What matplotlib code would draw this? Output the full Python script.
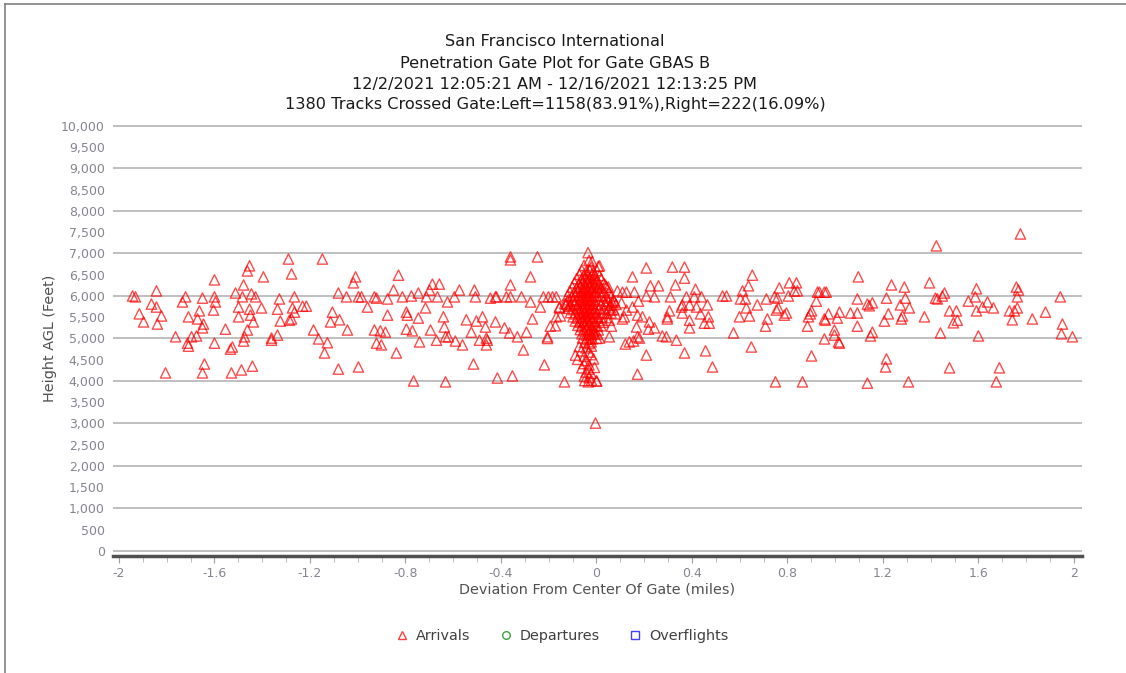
import matplotlib
matplotlib.use('Agg')
import matplotlib.pyplot as plt
from matplotlib.lines import Line2D
from matplotlib.ticker import MultipleLocator, FuncFormatter

# titulo / etiquetas
title_lines = ['San Francisco International',
               'Penetration Gate Plot for Gate GBAS B',
               '12/2/2021 12:05:21 AM - 12/16/2021 12:13:25 PM',
               '1380 Tracks Crossed Gate:Left=1158(83.91%),Right=222(16.09%)']
x_label = 'Deviation From Center Of Gate (miles)'
y_label = 'Height AGL (Feet)'
legend_names = ['Arrivals', 'Departures', 'Overflights']

# arrivals west of the gate centre (miles, feet)
west_x = [-1.943, -1.931, -1.843, -1.915, -1.897, -1.864, -1.843, -1.822, -1.839, -1.763,
          -1.805, -1.734, -1.721, -1.709, -1.696, -1.713, -1.709, -1.675, -1.663, -1.671,
          -1.646, -1.650, -1.650, -1.642, -1.650, -1.600, -1.600, -1.596, -1.604, -1.600,
          -1.554, -1.533, -1.525, -1.529, -1.487, -1.441, -1.512, -1.478, -1.483, -1.499,
          -1.499, -1.453, -1.462, -1.453, -1.449, -1.437, -1.462, -1.474, -1.478, -1.445,
          -1.428, -1.395, -1.403, -1.361, -1.361, -1.336, -1.336, -1.328, -1.324, -1.290,
          -1.277, -1.273, -1.265, -1.265, -1.286, -1.277, -1.231, -1.215, -1.185, -1.164,
          -1.139, -1.127, -1.148, -1.081, -1.106, -1.114, -1.076, -1.043, -1.081, -1.047,
          -1.009, -1.018, -0.997, -0.997,
          -0.984, -0.959, -0.930, -0.921, -0.930, -0.921, -0.901, -0.905, -0.884, -0.875,
          -0.875, -0.850, -0.829, -0.838, -0.813, -0.796, -0.792, -0.796, -0.775, -0.771,
          -0.766, -0.746, -0.746, -0.741, -0.712, -0.716, -0.699, -0.687, -0.695, -0.666,
          -0.658, -0.670, -0.641, -0.637, -0.632, -0.624, -0.620, -0.632, -0.595, -0.591,
          -0.574, -0.561, -0.545, -0.524, -0.515, -0.511, -0.507, -0.503, -0.490, -0.477,
          -0.465, -0.461, -0.457, -0.461, -0.444, -0.423, -0.419, -0.423, -0.415, -0.385,
          -0.360, -0.360, -0.360, -0.377, -0.360, -0.364, -0.352, -0.331, -0.314, -0.306,
          -0.293, -0.276, -0.276, -0.268, -0.247, -0.235, -0.222, -0.218, -0.201, -0.184,
          -0.168, -0.193, -0.205, -0.155, -0.168, -0.151, -0.134, -0.121, -0.155, -0.172,
          -0.205]
west_y = [6000, 5980, 6120, 5580, 5390, 5810, 5740, 5530, 5340, 5040,
          4190, 5860, 5980, 5510, 5040, 4890, 4820, 5060, 5650, 5460,
          5340, 5250, 5950, 4400, 4190, 6380, 5980, 5860, 5670, 4890,
          5220, 4750, 4800, 4190, 4260, 4350, 6070, 6260, 5980, 5740,
          5510, 6710, 6590, 5690, 5550, 5390, 5200, 5040, 4940, 6050,
          5980, 6450, 5720, 5010, 4960, 5080, 5690, 5930, 5410, 6870,
          6520, 5720, 5980, 5620, 5430, 5460, 5760, 5760, 5200, 4990,
          4660, 4900, 6870, 4280, 5620, 5390, 5440, 5200, 6070, 5980,
          6450, 6310, 5980, 4330,
          5980, 5740, 5980, 5950, 5200, 4890, 4850, 5180, 5150, 5930,
          5550, 6140, 6490, 4660, 5980, 5620, 5550, 5220, 6000, 5180,
          4000, 6070, 5480, 4920, 5980, 5720, 6140, 6280, 5200, 5980,
          6280, 4960, 5510, 5270, 3980, 5860, 5040, 5040, 5980, 4940,
          6140, 4850, 5440, 5150, 4400, 6140, 5980, 5410, 4960, 5510,
          5270, 5010, 4960, 4850, 5950, 5980, 5980, 5390, 4070, 5250,
          6920, 6850, 6260, 5980, 5980, 5130, 4120, 5040, 5980, 4730,
          5150, 6450, 5860, 5460, 6920, 5740, 5980, 4380, 5980, 5980,
          5980, 5290, 5040, 5740, 5510, 5530, 3980, 5860, 5720, 5300,
          5000]

# dense core of arrivals right at the gate centre
core_x = [-0.035, -0.031, -0.018, -0.052, -0.022, 0.008, -0.061, -0.043, -0.029, -0.012,
          0.002, -0.071, -0.054, -0.041, -0.033, -0.019, -0.008, 0.012, -0.083, -0.063,
          -0.048, -0.038, -0.027, -0.016, -0.005, 0.003, 0.021, -0.092, -0.074, -0.058,
          -0.049, -0.037, -0.026, -0.021, -0.009, 0.001, 0.013, 0.031, -0.101, -0.082,
          -0.068, -0.057, -0.046, -0.039, -0.028, -0.017, -0.007, 0.004, 0.019, 0.042,
          -0.112, -0.094, -0.079, -0.062, -0.051, -0.043, -0.032, -0.023, -0.011, -0.002,
          0.011, 0.028, 0.052, -0.121, -0.103, -0.089, -0.072, -0.061, -0.047, -0.038,
          -0.029, -0.018, -0.008, 0.003, 0.024, 0.041, 0.063, -0.118, -0.098, -0.083,
          -0.069, -0.058, -0.049, -0.041, -0.031, -0.022, -0.012, 0.009, 0.029, 0.048,
          0.071, -0.128, -0.108, -0.091, -0.078, -0.063, -0.052, -0.044, -0.033, -0.024,
          -0.013, -0.003, 0.018, 0.037, 0.058, 0.082, -0.119, -0.097, -0.081, -0.071,
          -0.059, -0.048, -0.039, -0.027, -0.018, -0.006, 0.012, 0.033, 0.054, 0.072,
          -0.109, -0.088, -0.072, -0.062, -0.053, -0.042, -0.032, -0.021, -0.011, 0.002,
          0.022, 0.043, 0.061, -0.098, -0.079, -0.068, -0.057, -0.046, -0.037, -0.028,
          -0.016, -0.006, 0.006, 0.023, 0.041, -0.089, -0.071, -0.061, -0.052, -0.041,
          -0.031, -0.019, -0.009, 0.011, 0.028, -0.078, -0.062, -0.049, -0.038, -0.029,
          -0.017, -0.006, 0.004, 0.019, -0.068, -0.052, -0.041, -0.031, -0.022, -0.011,
          0.008, -0.061, -0.043, -0.032, -0.021, -0.009, 0.002, -0.058, -0.041, -0.029,
          -0.018, 0.001, -0.049, -0.031, -0.022, -0.072, -0.043, -0.021, -0.063, -0.032,
          -0.088, -0.051, -0.023, -0.079, -0.042, -0.012, -0.052, -0.031, -0.061, -0.033,
          -0.008, -0.043, -0.022, -0.051, -0.031, -0.049, -0.034, -0.021, 0.001, -0.133,
          -0.114, 0.047, 0.066]
core_y = [7020, 6840, 6810, 6720, 6680, 6700, 6610, 6580, 6620, 6560,
          6600, 6510, 6480, 6530, 6470, 6520, 6490, 6480, 6410, 6380,
          6420, 6370, 6430, 6390, 6410, 6360, 6400, 6310, 6280, 6330,
          6290, 6320, 6270, 6310, 6290, 6330, 6270, 6300, 6210, 6180,
          6230, 6190, 6220, 6170, 6210, 6180, 6230, 6200, 6190, 6210,
          6110, 6080, 6120, 6090, 6130, 6070, 6100, 6120, 6080, 6110,
          6090, 6120, 6080, 6010, 5980, 6020, 5990, 6030, 5970, 6010,
          6000, 5980, 6020, 5990, 6010, 5980, 6000, 5910, 5880, 5920,
          5890, 5930, 5870, 5910, 5890, 5920, 5880, 5910, 5890, 5870,
          5900, 5810, 5780, 5820, 5790, 5830, 5770, 5810, 5790, 5820,
          5780, 5810, 5790, 5820, 5780, 5800, 5710, 5680, 5720, 5690,
          5730, 5670, 5710, 5690, 5720, 5680, 5710, 5690, 5720, 5680,
          5610, 5580, 5620, 5590, 5630, 5570, 5610, 5590, 5620, 5580,
          5610, 5590, 5600, 5510, 5480, 5520, 5490, 5530, 5470, 5510,
          5490, 5520, 5480, 5510, 5490, 5410, 5380, 5420, 5390, 5430,
          5370, 5410, 5390, 5420, 5380, 5310, 5280, 5320, 5290, 5330,
          5270, 5310, 5290, 5300, 5210, 5180, 5220, 5190, 5230, 5170,
          5200, 5110, 5080, 5120, 5090, 5130, 5100, 5010, 4980, 5020,
          4990, 5000, 4910, 4880, 4920, 4810, 4780, 4820, 4710, 4680,
          4610, 4580, 4620, 4510, 4480, 4520, 4410, 4380, 4310, 4280,
          4320, 4210, 4180, 4110, 4080, 4010, 3980, 4020, 4000, 5820,
          5760, 5950, 5850]

# arrivals east of the gate centre
east_x = [0.013, 0.209, 0.318, 0.369, 0.151, 0.369, 0.331, 0.226, 0.260, 0.038,
          0.050, 0.415, 0.653, 0.637, 0.612, 0.808, 0.838, 0.766, 0.842, 0.829,
          0.926, 0.963, 0.088, 0.109, 0.126, 0.159, 0.209, 0.243, 0.176, 0.310,
          0.377, 0.410, 0.440, 0.528, 0.545, 0.603, 0.624, 0.674, 0.712, 0.746,
          0.758, 0.804, 0.921, 0.075, 0.105, 0.151, 0.063, 0.126, 0.172, 0.117,
          0.109, 0.193, 0.080, 0.306, 0.297, 0.297, 0.360, 0.356, 0.390, 0.419,
          0.465, 0.360, 0.436, 0.469, 0.473, 0.390, 0.390, 0.452, 0.628, 0.599,
          0.641, 0.716, 0.708, 0.762, 0.754, 0.796, 0.787, 0.901, 0.896, 0.888,
          0.959, 0.884, 0.054, 0.063, 0.168, 0.222, 0.243, 0.218, 0.172, 0.180,
          0.276, 0.293, 0.335, 0.574, 0.054, 0.013, 0.121, 0.138, 0.155, 0.209,
          0.369, 0.457, 0.649, 0.955, 0.901, 0.486, 0.172, 0.000, 0.750, 0.863,
          -0.004,
          1.424, 1.776, 1.097, 1.236, 1.290, 1.395, 0.955, 0.934, 1.093, 1.215,
          1.294, 1.420, 1.428, 1.449, 1.458, 1.592, 1.587, 1.558, 1.638, 1.759,
          1.768, 1.763, 1.943, 1.135, 1.143, 1.156, 1.273, 1.311, 1.617, 1.663,
          0.972, 1.018, 1.009, 1.064, 1.093, 0.955, 1.223, 1.282, 1.277, 1.206,
          1.374, 1.479, 1.508, 1.512, 1.495, 1.592, 1.730, 1.751, 1.763, 1.742,
          1.826, 1.881, 1.952, 1.093, 0.997, 0.997, 1.156, 1.148, 1.441, 1.600,
          1.948, 1.994, 1.014, 1.018, 1.215, 1.211, 1.479, 1.688, 1.135, 1.307,
          1.675]
east_y = [6710, 6660, 6680, 6680, 6450, 6420, 6260, 6240, 6240, 6260,
          6210, 6160, 6490, 6240, 6120, 6310, 6310, 6190, 6120, 6120,
          6090, 6090, 6120, 6090, 6090, 6090, 6000, 5980, 5880, 5980,
          5980, 5980, 5980, 6000, 6000, 5930, 5930, 5790, 5930, 5980,
          5950, 6000, 5880, 5880, 5840, 5740, 5670, 5670, 5550, 5510,
          5460, 5510, 5580, 5650, 5510, 5460, 5790, 5740, 5790, 5740,
          5790, 5600, 5580, 5510, 5360, 5430, 5250, 5360, 5720, 5510,
          5530, 5460, 5290, 5720, 5670, 5600, 5550, 5650, 5580, 5510,
          5430, 5290, 5430, 5290, 5270, 5390, 5250, 5220, 5040, 5010,
          5060, 5040, 4960, 5130, 5040, 5010, 4870, 4920, 4940, 4610,
          4660, 4710, 4800, 4990, 4590, 4330, 4160, 4000, 3980, 3980,
          3010,
          7180, 7460, 6450, 6260, 6210, 6310, 6090, 6090, 5930, 5950,
          5950, 5950, 5930, 6000, 6070, 6170, 5980, 5880, 5860, 6210,
          6140, 5980, 5980, 5810, 5770, 5840, 5790, 5720, 5740, 5720,
          5580, 5620, 5480, 5600, 5600, 5460, 5580, 5530, 5460, 5410,
          5510, 5650, 5650, 5430, 5370, 5650, 5650, 5650, 5720, 5440,
          5460, 5620, 5340, 5290, 5200, 5080, 5150, 5060, 5130, 5060,
          5110, 5040, 4920, 4890, 4520, 4330, 4310, 4310, 3950, 3980,
          3980]

arr_x = west_x + core_x + east_x
arr_y = west_y + core_y + east_y

plt.rcParams['font.family'] = ['DejaVu Sans']
fig = plt.figure(figsize=(11.26, 6.73), dpi=100)
ax = fig.add_axes([113/1126, 1 - 556/673, 969/1126, 436/673])

ax.scatter(arr_x, arr_y, marker='^', s=55, facecolors='none', edgecolors='#ff0000',
           linewidths=1.0, alpha=0.7, zorder=3)

ax.set_xlim(-2.025, 2.034)
ax.set_ylim(-118, 10141)

for v in range(0, 10001, 1000):
    ax.axhline(v, color='#b4b4b4', lw=1.2, zorder=1)

ax.yaxis.set_major_locator(MultipleLocator(500))
ax.yaxis.set_major_formatter(FuncFormatter(lambda v, p: f'{int(v):,}'))
ax.xaxis.set_major_locator(MultipleLocator(0.4))
ax.xaxis.set_minor_locator(MultipleLocator(0.1))
ax.xaxis.set_major_formatter(FuncFormatter(lambda v, p: f'{v:g}' if abs(v) > 1e-9 else '0'))

for s in ['top', 'right', 'left']:
    ax.spines[s].set_visible(False)
ax.spines['bottom'].set_color('#505050')
ax.spines['bottom'].set_linewidth(2.5)

ax.tick_params(axis='y', length=0, labelsize=9, labelcolor='#858590', pad=6)
ax.tick_params(axis='x', which='major', length=5, color='#a0a0a0', labelsize=9,
               labelcolor='#858590', pad=3)
ax.tick_params(axis='x', which='minor', length=4, color='#b0b0b0')

ax.set_xlabel(x_label, fontsize=10.4, color='#505050', labelpad=2)
ax.set_ylabel(y_label, fontsize=10.4, color='#505050', labelpad=3)

title_y = [42, 63, 84, 104]
for txt, py in zip(title_lines, title_y):
    fig.text(555/1126, 1 - py/673, txt, ha='center', va='center', fontsize=11.6, color='#1a1a1a')

handles = [Line2D([], [], ls='none', marker='^', ms=5.5, mfc='none', mec='#ff4040', mew=1),
           Line2D([], [], ls='none', marker='o', ms=5.5, mfc='none', mec='#40a040', mew=1),
           Line2D([], [], ls='none', marker='s', ms=5.5, mfc='none', mec='#4040ff', mew=1)]
fig.legend(handles, legend_names, loc='center', bbox_to_anchor=(561/1126, 1 - 636/673),
           ncol=3, frameon=False, fontsize=10.4, handlelength=1.2, handletextpad=0.4,
           columnspacing=1.8, labelcolor='#404040')

# frame around the chart area
fig.add_artist(Line2D([5/1126, 5/1126], [0, 1 - 4/673], color='#808080', lw=1.2))
fig.add_artist(Line2D([5/1126, 1], [1 - 4/673, 1 - 4/673], color='#808080', lw=1.2))

fig.savefig('out.png', dpi=100)
